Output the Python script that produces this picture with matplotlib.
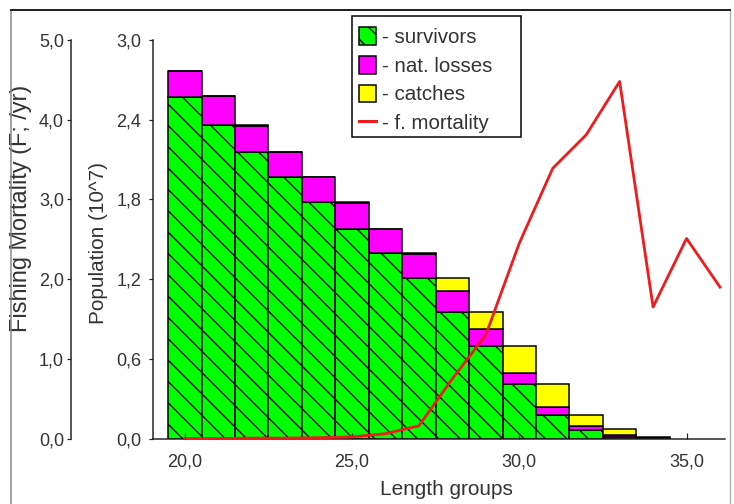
import matplotlib
matplotlib.use('Agg')
import matplotlib.pyplot as plt
from matplotlib.lines import Line2D
from matplotlib.patches import Rectangle
from matplotlib.ticker import FuncFormatter, FixedLocator

# length groups and stacked population components (10^7)
groups = [20, 21, 22, 23, 24, 25, 26, 27, 28, 29, 30, 31, 32, 33, 34]
survivors = [2.57, 2.357, 2.155, 1.97, 1.78, 1.58, 1.395, 1.21, 0.955, 0.70, 0.41, 0.18, 0.067, 0.015, 0.003]
nat_losses = [0.20, 0.218, 0.201, 0.186, 0.188, 0.196, 0.18, 0.18, 0.158, 0.126, 0.083, 0.06, 0.029, 0.014, 0.004]
catches = [0.0, 0.0, 0.001, 0.001, 0.002, 0.004, 0.005, 0.01, 0.097, 0.13, 0.207, 0.17, 0.084, 0.04, 0.008]

# fishing mortality (F; /yr)
f_groups = [20, 21, 22, 23, 24, 25, 26, 27, 28, 29, 30, 31, 32, 33, 34, 35, 36]
f_mortality = [0.0, 0.0, 0.005, 0.005, 0.01, 0.02, 0.06, 0.16, 0.75, 1.30, 2.45, 3.39, 3.81, 4.48, 1.65, 2.51, 1.90]

pop_ticks = [0.0, 0.6, 1.2, 1.8, 2.4, 3.0]
f_ticks = [0.0, 1.0, 2.0, 3.0, 4.0, 5.0]
x_ticks = [20, 25, 30, 35]

W, H = 734, 504
DPI = 64  # hatch spacing scales with dpi


def pt(v):
    # pixels -> points
    return v * 72.0 / DPI


TXT = '#333333'
AX = '#222222'
RED = '#ee1c1c'
FS_TICK = pt(18)
FS_LAB = pt(20.8)
FS_FLAB = pt(23.5)
FS_LEG = pt(20.5)

plt.rcParams['font.family'] = ['Liberation Sans', 'DejaVu Sans']
plt.rcParams['hatch.linewidth'] = pt(1.3)

fig = plt.figure(figsize=(W / DPI, H / DPI), dpi=DPI)
left, right, top, bottom = 153, 725, 40, 438.5
ax = fig.add_axes([left / W, 1 - bottom / H, (right - left) / W, (bottom - top) / H])

comma = FuncFormatter(lambda v, p: f'{v:.1f}'.replace('.', ','))

b1 = ax.bar(groups, survivors, width=1.0, color='#00ff00', edgecolor='black',
            linewidth=pt(1.5), hatch='\\')
bot2 = [s for s in survivors]
b2 = ax.bar(groups, nat_losses, width=1.0, bottom=bot2, color='#ff00ff',
            edgecolor='black', linewidth=pt(1.5))
bot3 = [s + n for s, n in zip(survivors, nat_losses)]
b3 = ax.bar(groups, catches, width=1.0, bottom=bot3, color='#ffff00',
            edgecolor='black', linewidth=pt(1.5))

ax.set_xlim(19.05, 36.15)
ax.set_ylim(0, 3.0)
ax.set_xticks(x_ticks)
ax.set_yticks(pop_ticks)
ax.xaxis.set_major_formatter(comma)
ax.yaxis.set_major_formatter(comma)
for s in ['top', 'right']:
    ax.spines[s].set_visible(False)
for s in ['left', 'bottom']:
    ax.spines[s].set_color(AX)
    ax.spines[s].set_linewidth(pt(1.5))
ax.tick_params(axis='x', direction='in', length=pt(6), width=pt(1.2), color=AX,
               labelsize=FS_TICK, labelcolor=TXT, pad=pt(15))
ax.tick_params(axis='y', direction='out', length=pt(4), width=pt(1.2), color=AX,
               labelsize=FS_TICK, labelcolor=TXT, pad=pt(8))
ax.yaxis.set_minor_locator(FixedLocator([3.0]))
ax.tick_params(axis='y', which='minor', direction='in', length=pt(5), width=pt(1.5), color=AX)
ax.set_xlabel('Length groups', fontsize=FS_LAB, color=TXT)
ax.xaxis.set_label_coords((446 - left) / (right - left), -(480 - bottom) / (bottom - top))
ax.set_ylabel('Population (10^7)', fontsize=FS_LAB, color=TXT)
ax.yaxis.set_label_coords((108 - left) / (right - left), 0.49)

ax2 = ax.twinx()
ax2.plot(f_groups, f_mortality, color=RED, linewidth=pt(2.8))
ax2.set_ylim(0, 5.0)
ax2.set_yticks(f_ticks)
ax2.yaxis.set_major_formatter(comma)
ax2.yaxis.set_ticks_position('left')
ax2.yaxis.set_label_position('left')
ax2.spines['left'].set_position(('axes', (71 - left) / (right - left)))
ax2.spines['left'].set_visible(True)
ax2.spines['left'].set_color(AX)
ax2.spines['left'].set_linewidth(pt(1.5))
for s in ['top', 'right', 'bottom']:
    ax2.spines[s].set_visible(False)
ax2.tick_params(axis='y', direction='out', length=pt(4), width=pt(1.2), color=AX,
                labelsize=FS_TICK, labelcolor=TXT, pad=pt(3))
ax2.yaxis.set_minor_locator(FixedLocator([0.0, 5.0]))
ax2.tick_params(axis='y', which='minor', direction='in', length=pt(5), width=pt(1.5), color=AX)
ax2.set_ylabel('Fishing Mortality (F; /yr)', fontsize=FS_FLAB, color=TXT)
ax2.yaxis.set_label_coords((32 - left) / (right - left), 0.578)

# legend box drawn separately so the entries can sit where the original has them
box = Rectangle((352 / W, 1 - 137 / H), 169 / W, 121 / H, transform=fig.transFigure,
                facecolor='white', edgecolor='black', linewidth=pt(1.5),
                clip_on=False, zorder=4)
ax2.add_patch(box)

handles = [b1, b2, b3, Line2D([], [], color=RED, linewidth=pt(3))]
labels = ['- survivors', '- nat. losses', '- catches', '- f. mortality']
leg = ax2.legend(handles, labels, loc='upper left',
                 bbox_to_anchor=(352 / W, 1 - 20 / H), bbox_transform=fig.transFigure,
                 borderaxespad=0, frameon=False,
                 fontsize=FS_LEG, handlelength=0.8, handleheight=0.95, handletextpad=0.3,
                 labelspacing=0.43, borderpad=0.35, labelcolor=TXT)
leg.set_zorder(5)

# panel frame
fig.add_artist(Line2D([11 / W, 11 / W], [0, 1 - 10 / H], transform=fig.transFigure,
                      color='#888888', linewidth=pt(1.5)))
fig.add_artist(Line2D([730 / W, 730 / W], [0, 1 - 10 / H], transform=fig.transFigure,
                      color='#aaaaaa', linewidth=pt(1.2)))
fig.add_artist(Line2D([11 / W, 730 / W], [1 - 10 / H, 1 - 10 / H], transform=fig.transFigure,
                      color='#222222', linewidth=pt(2)))

fig.savefig('out.png', dpi=DPI)
